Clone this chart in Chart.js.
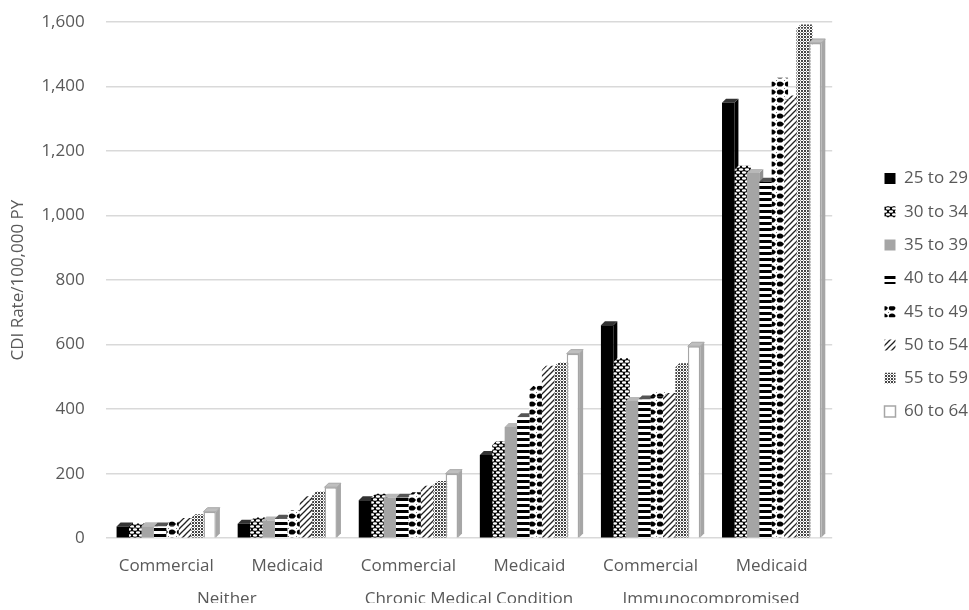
<!DOCTYPE html>
<html>
<head>
<meta charset="utf-8">
<script src="https://cdn.jsdelivr.net/npm/chart.js@4.4.1/dist/chart.umd.min.js"></script>
<style>
  html, body { margin: 0; padding: 0; background: #ffffff; overflow: hidden; }
  #wrap { width: 969px; height: 610px; position: relative; }
  #chart { display: block; }
</style>
</head>
<body>
<div id="wrap"><canvas id="chart" width="969" height="610"></canvas></div>
<script>
// Payer type within each risk group
const categories = ['Commercial', 'Medicaid', 'Commercial', 'Medicaid', 'Commercial', 'Medicaid'];
// Risk groups, each spanning two payer columns
const riskGroups = ['Neither', 'Chronic Medical Condition', 'Immunocompromised'];
// Age bands (one series each)
const ageBands = ['25 to 29', '30 to 34', '35 to 39', '40 to 44', '45 to 49', '50 to 54', '55 to 59', '60 to 64'];

// CDI rate per 100,000 person-years
const age25to29 = [36, 45, 118, 258, 660, 1350];
const age30to34 = [33, 52, 125, 288, 545, 1142];
const age35to39 = [37, 55, 125, 345, 425, 1132];
const age40to44 = [36, 60, 125, 375, 430, 1105];
const age45to49 = [40, 75, 130, 460, 440, 1415];
const age50to54 = [50, 118, 150, 522, 438, 1360];
const age55to59 = [62, 132, 165, 532, 530, 1580];
const age60to64 = [82, 158, 200, 572, 595, 1535];

const yTicks = [0, 200, 400, 600, 800, 1000, 1200, 1400, 1600];

// ---- fill patterns ----
function tile(w, h, draw) {
  const c = document.createElement('canvas');
  c.width = w; c.height = h;
  const g = c.getContext('2d');
  draw(g, w, h);
  return document.createElement('canvas').getContext('2d').createPattern(c, 'repeat');
}
const solidBlack = '#000000';
const solidGray = '#a5a5a5';
const ovalLattice = tile(6, 6, (g) => {
  g.fillStyle = '#000'; g.fillRect(0, 0, 6, 6);
  g.fillStyle = '#fff';
  g.beginPath(); g.ellipse(3, 1.5, 2.2, 1.3, 0, 0, Math.PI * 2); g.fill();
  g.beginPath(); g.ellipse(0, 4.5, 2.2, 1.3, 0, 0, Math.PI * 2); g.fill();
  g.beginPath(); g.ellipse(6, 4.5, 2.2, 1.3, 0, 0, Math.PI * 2); g.fill();
});
const hStripes = tile(6, 6, (g) => {
  g.fillStyle = '#fff'; g.fillRect(0, 0, 6, 6);
  g.fillStyle = '#000'; g.fillRect(0, 0, 6, 3);
});
const bigDots = tile(8, 8, (g) => {
  g.fillStyle = '#fff'; g.fillRect(0, 0, 8, 8);
  g.fillStyle = '#777';
  g.fillRect(0, 0, 1, 1); g.fillRect(7, 3, 1, 2);
  g.fillStyle = '#000';
  g.beginPath(); g.ellipse(4, 4, 3.2, 2.6, 0, 0, Math.PI * 2); g.fill();
});
const diagDash = tile(6, 6, (g) => {
  g.fillStyle = '#fff'; g.fillRect(0, 0, 6, 6);
  g.strokeStyle = '#222'; g.lineWidth = 1.3;
  g.beginPath(); g.moveTo(-1, 7); g.lineTo(7, -1); g.stroke();
  g.beginPath(); g.moveTo(-1, 1); g.lineTo(1, -1); g.stroke();
  g.beginPath(); g.moveTo(5, 7); g.lineTo(7, 5); g.stroke();
});
const fineGrid = tile(3, 3, (g) => {
  g.fillStyle = '#fff'; g.fillRect(0, 0, 3, 3);
  g.fillStyle = '#444'; g.fillRect(0, 0, 2, 2);
  g.fillStyle = '#999'; g.fillRect(2, 2, 1, 1);
});
const hollow = '#ffffff';

const fills = [solidBlack, ovalLattice, solidGray, hStripes, bigDots, diagDash, fineGrid, hollow];
const sideFills = [solidBlack, ovalLattice, '#8f8f8f', hStripes, bigDots, diagDash, fineGrid, '#a6a6a6'];
const topFills = ['#333333', ovalLattice, '#b8b8b8', '#555555', bigDots, diagDash, fineGrid, '#bfbfbf'];
const seriesValues = [age25to29, age30to34, age35to39, age40to44, age45to49, age50to54, age55to59, age60to64];

const datasets = ageBands.map((band, i) => ({
  label: band,
  data: seriesValues[i],
  backgroundColor: fills[i],
  borderColor: i === 7 ? '#a6a6a6' : 'rgba(0,0,0,0)',
  borderWidth: i === 7 ? 1.5 : 0,
  categoryPercentage: 0.82,
  barPercentage: 1.0
}));

// Column depth: a top face and a right side face behind each column
const DEPTH = 4;
const columnDepth = {
  id: 'columnDepth',
  beforeDatasetsDraw(chart) {
    const ctx = chart.ctx;
    const n = chart.data.labels.length;
    for (let c = 0; c < n; c++) {
      chart.data.datasets.forEach((ds, i) => {
        const bar = chart.getDatasetMeta(i).data[c];
        if (!bar) return;
        const { x, y, base, width } = bar.getProps(['x', 'y', 'base', 'width'], true);
        const l = x - width / 2, r = x + width / 2;
        ctx.save();
        ctx.fillStyle = sideFills[i];
        ctx.beginPath();
        ctx.moveTo(r, base); ctx.lineTo(r, y);
        ctx.lineTo(r + DEPTH, y - DEPTH); ctx.lineTo(r + DEPTH, base - DEPTH);
        ctx.closePath(); ctx.fill();
        ctx.fillStyle = topFills[i];
        ctx.beginPath();
        ctx.moveTo(l, y); ctx.lineTo(l + DEPTH, y - DEPTH);
        ctx.lineTo(r + DEPTH, y - DEPTH); ctx.lineTo(r, y);
        ctx.closePath(); ctx.fill();
        if (i === 7) {
          ctx.strokeStyle = '#a6a6a6'; ctx.lineWidth = 1;
          ctx.stroke();
        }
        ctx.restore();
      });
    }
  }
};

const FONT = '"Open Sans", "Noto Sans", sans-serif';
const TEXT = '#595959';
const SIZE = 17;

new Chart(document.getElementById('chart'), {
  type: 'bar',
  data: { labels: categories, datasets },
  options: {
    responsive: false,
    animation: false,
    layout: { padding: { top: 22, left: 8, right: -9, bottom: 7 } },
    scales: {
      x: {
        grid: { display: false },
        border: { display: false },
        ticks: { color: TEXT, font: { family: FONT, size: SIZE }, padding: 10, maxRotation: 0 }
      },
      groups: {
        type: 'category',
        labels: riskGroups,
        position: 'bottom',
        offset: true,
        grid: { display: false },
        border: { display: false },
        ticks: { color: TEXT, font: { family: FONT, size: SIZE }, padding: -6, maxRotation: 0 }
      },
      y: {
        min: yTicks[0],
        max: yTicks[yTicks.length - 1],
        afterBuildTicks(scale) { scale.ticks = yTicks.map(v => ({ value: v })); },
        grid: { color: '#d9d9d9', lineWidth: 1.5, drawTicks: true, tickLength: 21, tickColor: 'rgba(0,0,0,0)' },
        border: { display: false },
        ticks: {
          color: TEXT,
          font: { family: FONT, size: SIZE },
          padding: 0,
          callback: (v) => Number(v).toLocaleString('en-US')
        },
        title: {
          display: true,
          text: 'CDI Rate/100,000 PY',
          color: TEXT,
          font: { family: FONT, size: SIZE },
          padding: { top: 0, bottom: 13 }
        }
      },
      gap: {
        type: 'linear',
        position: 'right',
        display: true,
        grid: { display: false },
        border: { display: false },
        ticks: { display: false },
        afterFit(scale) { scale.width = 36; }
      }
    },
    plugins: {
      legend: {
        position: 'right',
        align: 'start',
        title: { display: true, text: '', font: { size: 1 }, padding: { top: 130.5, bottom: 0 } },
        labels: {
          color: TEXT,
          font: { family: FONT, size: SIZE },
          boxWidth: 11,
          boxHeight: 11,
          padding: 16.3
        }
      },
      tooltip: { enabled: false }
    }
  },
  plugins: [columnDepth]
});
</script>
</body>
</html>
